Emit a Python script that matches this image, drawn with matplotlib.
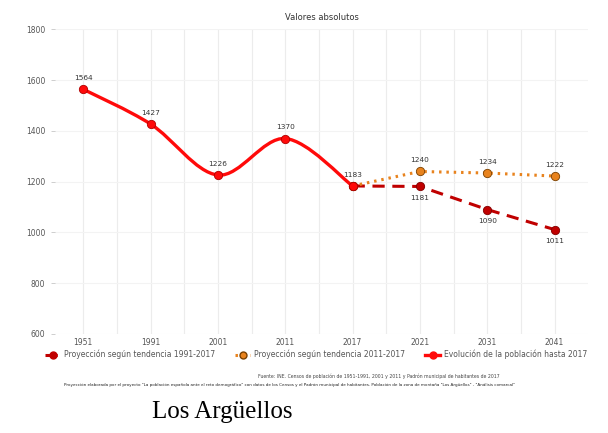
import matplotlib.pyplot as plt
from matplotlib.path import Path
from matplotlib.patches import PathPatch
import numpy as np

# Datos de poblacion - Los Argüellos
anios = ["1951", "1991", "2001", "2011", "2017", "2021", "2031", "2041"]
evolucion = [1564, 1427, 1226, 1370, 1183]
tend_1991 = [1183, 1181, 1090, 1011]
tend_2011 = [1183, 1240, 1234, 1222]
yticks = [600, 800, 1000, 1200, 1400, 1600, 1800]

rojo = "#ff0a0a"
granate = "#c00000"
naranja = "#e8831e"
gris = "#555555"

fig = plt.figure(figsize=(6.08, 4.33), dpi=100)
ax = fig.add_axes([0.0905, 0.229, 0.877, 0.703])

x = np.arange(len(anios))
x_evo = x[:5]
x_proy = x[4:]

# curva suavizada (Catmull-Rom -> bezier) para la evolucion
pts = np.column_stack([x_evo, evolucion]).astype(float)
verts = [tuple(pts[0])]
codes = [Path.MOVETO]
for i in range(len(pts) - 1):
    p0 = pts[i - 1] if i > 0 else pts[i]
    p1 = pts[i]
    p2 = pts[i + 1]
    p3 = pts[i + 2] if i + 2 < len(pts) else pts[i + 1]
    c1 = p1 + (p2 - p0) / 6
    c2 = p2 - (p3 - p1) / 6
    verts += [tuple(c1), tuple(c2), tuple(p2)]
    codes += [Path.CURVE4] * 3
ax.add_patch(PathPatch(Path(verts, codes), fill=False, edgecolor=rojo,
                       linewidth=2.4, zorder=4, capstyle="round"))
ax.plot(x_evo, evolucion, "o", color=rojo, markersize=6,
        markeredgecolor="#b00000", markeredgewidth=0.6, zorder=5)

ax.plot(x_proy, tend_1991, color=granate, linewidth=2.2, linestyle=(0, (4, 2.5)),
        marker="o", markersize=6, markeredgecolor="#800000", markeredgewidth=0.6,
        zorder=3)
ax.plot(x_proy, tend_2011, color=naranja, linewidth=2.2, linestyle=(0, (0.8, 1.6)),
        marker="o", markersize=6, markeredgecolor="#7a4000", markeredgewidth=0.6,
        zorder=3)

# etiquetas de valores
for xi, v in zip(x_evo, evolucion):
    ax.annotate(str(v), (xi, v), xytext=(0, 6), textcoords="offset points",
                ha="center", va="bottom", fontsize=5.3, color="#333333")
for xi, v in zip(x_proy[1:], tend_2011[1:]):
    ax.annotate(str(v), (xi, v), xytext=(0, 6), textcoords="offset points",
                ha="center", va="bottom", fontsize=5.3, color="#333333")
for xi, v in zip(x_proy[1:], tend_1991[1:]):
    ax.annotate(str(v), (xi, v), xytext=(0, -6), textcoords="offset points",
                ha="center", va="top", fontsize=5.3, color="#333333")

ax.set_xlim(-0.42, 7.5)
ax.set_ylim(600, 1800)
ax.set_xticks(x)
ax.set_xticklabels(anios)
ax.set_xticks(x[:-1] + 0.5, minor=True)
ax.set_yticks(yticks)
ax.tick_params(axis="x", length=0, labelsize=5.5, labelcolor=gris, pad=3)
ax.tick_params(axis="x", which="minor", length=0)
ax.tick_params(axis="y", length=3, width=0.5, color="#bbbbbb", labelsize=5.5,
               labelcolor=gris, pad=4)
ax.grid(True, axis="x", which="both", color="#ececec", linewidth=0.8)
ax.grid(True, axis="y", color="#f3f3f3", linewidth=0.8)
for s in ax.spines.values():
    s.set_visible(False)

ax.set_title("Valores absolutos", fontsize=6, color="#333333", pad=7)

# leyenda
h1, = ax.plot([], [], color=granate, linewidth=2.2, linestyle=(0, (4, 2.5)),
              marker="o", markersize=5)
h2, = ax.plot([], [], color=naranja, linewidth=2.2, linestyle=(0, (0.8, 1.6)),
              marker="o", markersize=5, markeredgecolor="#7a4000")
h3, = ax.plot([], [], color=rojo, linewidth=2.4, marker="o", markersize=5)
fig.legend([h1, h2, h3],
           ["Proyección según tendencia 1991-2017",
            "Proyección según tendencia 2011-2017",
            "Evolución de la población hasta 2017"],
           loc="center", bbox_to_anchor=(0.52, 0.181), ncol=3, frameon=False,
           fontsize=5.5, labelcolor=gris, handlelength=2.0, columnspacing=2.6,
           handletextpad=0.5)

# fuente
fig.text(0.822, 0.128,
         "Fuente: INE. Censos de población de 1951-1991, 2001 y 2011 y Padrón municipal de habitantes de 2017",
         ha="right", fontsize=3.3, color="#444444")
fig.text(0.847, 0.108,
         "Proyección elaborada por el proyecto \"La población española ante el reto demográfico\" "
         "con datos de los Censos y el Padrón municipal de habitantes. Población de la zona de montaña "
         "\"Los Argüellos\" - \"Análisis comarcal\"",
         ha="right", fontsize=3.0, color="#222222")

fig.text(0.365, 0.035, "Los Argüellos", ha="center", fontsize=18,
         family="Liberation Serif", color="black")

fig.savefig("out.png", dpi=100)
